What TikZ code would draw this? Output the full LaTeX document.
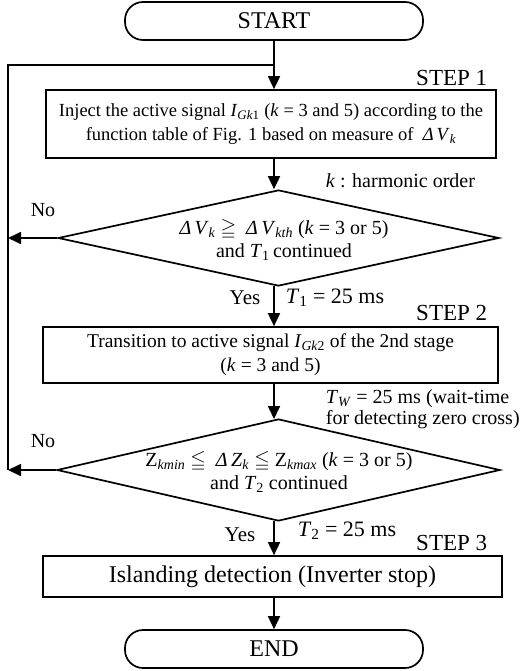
\documentclass[tikz,border=0pt]{standalone}
\usepackage{amssymb}
\usepackage{fontspec}
\setmainfont{Liberation Serif}
\usetikzlibrary{arrows.meta,shapes.geometric,calc}
\newcommand{\bigtxt}{\fontsize{24}{28}\selectfont}
\newcommand{\midtxt}{\fontsize{18.5}{24}\selectfont}
\newcommand{\labtxt}{\fontsize{20}{22}\selectfont}
\newcommand{\tlabtxt}{\fontsize{22}{24}\selectfont}
\newcommand{\steptxt}{\fontsize{23}{26}\selectfont}
\newcommand{\sbx}[1]{\textsubscript{\textit{#1}}}
\begin{document}
\begin{tikzpicture}[x=1pt,y=1pt,
  line width=1.7pt,
  arr/.style={-{Triangle[length=13pt,width=12pt]}},
  term/.style={draw,rounded corners=18pt,minimum width=298pt,minimum height=38pt,inner sep=0pt,font=\bigtxt},
  procbox/.style={draw,inner sep=0pt,align=center,font=\midtxt},
  decis/.style={draw,diamond,inner sep=0pt},
  lbl/.style={inner sep=0pt,font=\labtxt},
  tlbl/.style={inner sep=0pt,font=\tlabtxt,anchor=west},
  steplbl/.style={inner sep=0pt,font=\steptxt,anchor=east}
]
\useasboundingbox (0,0) rectangle (531,-671);
% terminals
\node[term] (start) at (274,-21) {START};
\node[term] (end) at (274,-649) {END};
% step 1
\node[procbox,minimum width=450pt,minimum height=68pt] (s1) at (271,-124)
  {Inject the active signal \textit{I}\textsubscript{\textit{Gk}1} (\textit{k} = 3 and 5) according to the\\
   function table of Fig. 1 based on measure of \ \textit{Δ\,V}\sbx{k}};
\node[steplbl] (st1) at (488,-78) {STEP 1};
\node[lbl,anchor=west] (kh) at (325,-181) {\textit{k} : harmonic order};
% decision 1
\node[decis,minimum width=441pt,minimum height=96pt] (d1) at (278.5,-238) {};
\node[lbl,align=center,font=\fontsize{20}{23}\selectfont] (d1t) at (284,-240)
  {\textit{Δ\,V}\sbx{k} $\geqq$ \ \textit{Δ\,V}\sbx{kth} (\textit{k} = 3 or 5)\\
   and \textit{T}\textsubscript{1}\,continued};
\node[lbl] (no1) at (43,-210) {No};
\node[lbl,font=\fontsize{21}{22}\selectfont] (yes1) at (245,-298) {Yes};
\node[tlbl] (t1) at (285,-298) {\textit{T}\textsubscript{1} = 25 ms};
% step 2
\node[steplbl] (st2) at (488,-313) {STEP 2};
\node[procbox,minimum width=455pt,minimum height=56pt,font=\fontsize{19.5}{24}\selectfont] (s2) at (270.5,-355)
  {Transition to active signal \textit{I}\textsubscript{\textit{Gk}2} of the 2nd stage\\
   (\textit{k} = 3 and 5)};
\node[lbl,anchor=west,align=left,font=\fontsize{20}{21}\selectfont] (tw) at (325,-409)
  {\textit{T}\sbx{W} = 25 ms (wait-time\\for detecting zero cross)};
% decision 2
\node[decis,minimum width=443pt,minimum height=102pt] (d2) at (278.5,-470) {};
\node[lbl,align=center,font=\fontsize{20}{23}\selectfont] (d2t) at (279,-472)
  {Z\sbx{kmin} $\leqq$ \ \textit{Δ\,Z}\sbx{k} $\leqq$ Z\sbx{kmax} (\textit{k} = 3 or 5)\\
   and \textit{T}\textsubscript{2} continued};
\node[lbl] (no2) at (43,-441) {No};
\node[lbl,font=\fontsize{21}{22}\selectfont] (yes2) at (240,-535) {Yes};
\node[tlbl] (t2) at (297,-531) {\textit{T}\textsubscript{2} = 25 ms};
% step 3
\node[steplbl] (st3) at (488,-543) {STEP 3};
\node[procbox,minimum width=459pt,minimum height=41pt,font=\bigtxt] (s3) at (272.5,-576.5)
  {Islanding detection (Inverter stop)};
% coordinates for loop
\coordinate (J) at (274,-65);
\coordinate (lt) at (8,-65);
\coordinate (lb) at (8,-470);
\coordinate (lm) at (8,-238);
% connectors
\draw[arr] (start.south) -- (start.south |- s1.north);
\draw (J) -- (lt) -- (lb);
\draw[arr] (s1.south -| start.south) -- (d1.north -| start.south);
\draw[arr] (d1.west) -- (lm);
\draw[arr] (274,-286) -- (s2.north -| start.south);
\draw[arr] (s2.south -| start.south) -- (274,-419);
\draw[arr] (d2.west) -- (lb);
\draw[arr] (274,-521) -- (s3.north -| start.south);
\draw[arr] (s3.south -| start.south) -- (end.north);
\end{tikzpicture}
\end{document}
